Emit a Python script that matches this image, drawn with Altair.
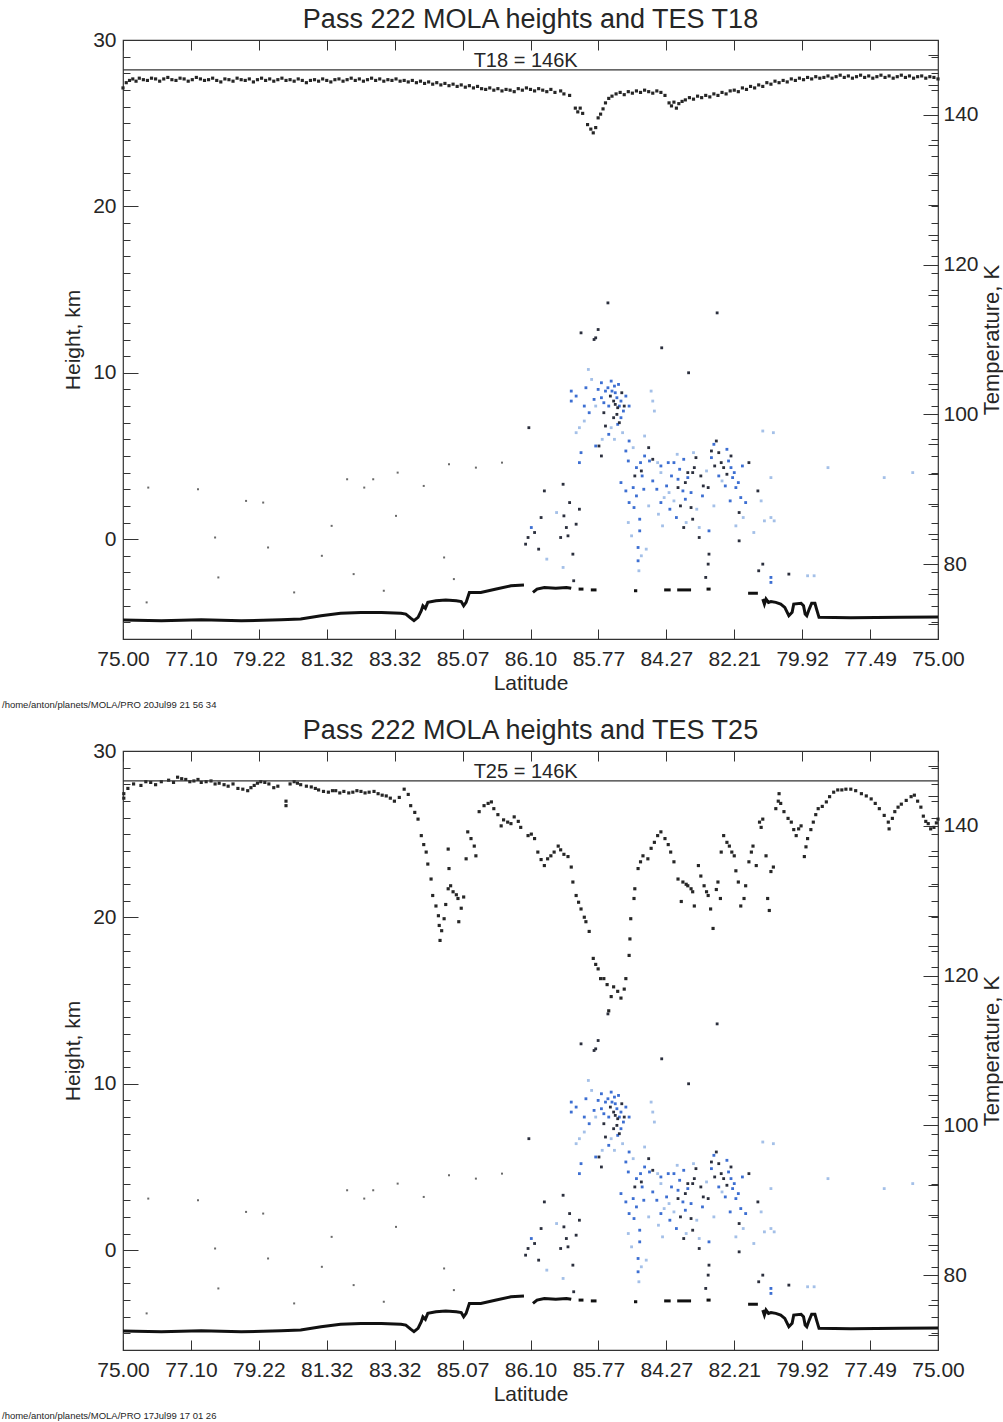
import altair as alt
import pandas as pd

# ---------------- text ----------------
TITLE_1 = "Pass 222 MOLA heights and TES T18"
TITLE_2 = "Pass 222 MOLA heights and TES T25"
REF_1 = "T18 = 146K"
REF_2 = "T25 = 146K"
FOOT_1 = "/home/anton/planets/MOLA/PRO 20Jul99 21 56 34"
FOOT_2 = "/home/anton/planets/MOLA/PRO 17Jul99 17 01 26"
X_LABELS = ["75.00", "77.10", "79.22", "81.32", "83.32", "85.07", "86.10",
            "85.77", "84.27", "82.21", "79.92", "77.49", "75.00"]
H_MAJOR = [0, 10, 20, 30]
T_MAJOR = [80, 100, 120, 140]
T_REF = 146

# ---------------- data (along-track position 0..1000, value) ----------------
T18 = [(0,143.6),(4,144.3),(8,144.6),(12,144.8),(16,144.5),(20,144.9),(25,144.7),(30,144.6),(35,144.9),
       (40,144.8),(45,144.5),(50,144.8),(55,145.0),(60,144.7),(65,144.6),(70,144.9),(75,144.8),(80,144.5),
       (85,144.7),(90,145.0),(95,144.8),(100,144.6),(105,144.7),(110,144.9),(115,144.6),(120,144.4),
       (125,144.8),(130,144.7),(135,144.5),(140,144.9),(145,144.7),(150,144.6),(155,144.8),(160,144.4),
       (165,144.7),(170,144.9),(175,144.6),(180,144.8),(185,144.5),(190,144.7),(195,144.9),(200,144.6),
       (205,144.7),(210,144.5),(215,144.8),(220,144.6),(225,144.3),(230,144.6),(235,144.7),(240,144.5),
       (245,144.8),(250,144.6),(255,144.4),(260,144.7),(265,144.8),(270,144.5),(275,144.7),(280,144.9),
       (285,144.6),(290,144.8),(295,144.5),(300,144.7),(305,144.9),(310,144.6),(315,144.8),(320,144.5),
       (325,144.7),(330,144.6),(335,144.8),(340,144.5),(345,144.6),(350,144.4),(355,144.6),(360,144.3),
       (365,144.5),(370,144.2),(375,144.4),(380,144.1),(385,144.3),(390,144.0),(395,144.2),(400,143.9),
       (405,144.1),(410,143.8),(415,144.0),(420,143.7),(425,143.9),(430,143.6),(435,143.8),(440,143.5),
       (445,143.4),(450,143.6),(455,143.3),(460,143.5),(465,143.2),(470,143.4),(475,143.3),(480,143.1),
       (485,143.5),(490,143.3),(495,143.6),(500,143.4),(505,143.2),(510,143.5),(515,143.3),(520,143.1),
       (525,143.4),(530,143.0),(537,143.2),(541,142.8),(548,142.6),(555,140.9),(558,140.4),(561,140.9),
       (564,140.2),(570,138.7),(574,138.1),(577,137.6),(580,138.3),(583,139.6),(586,140.1),(589,140.8),
       (592,141.6),(596,142.2),(600,142.5),(605,142.8),(610,143.0),(615,142.7),(620,143.1),(625,142.9),
       (630,143.2),(635,143.0),(640,143.3),(645,143.1),(650,142.9),(655,143.2),(660,143.0),(665,142.6),
       (670,141.6),(673,141.2),(676,141.7),(679,140.9),(682,141.5),(686,141.8),(690,142.0),(695,142.3),
       (700,142.1),(705,142.5),(710,142.3),(715,142.6),(720,142.4),(725,142.8),(730,142.6),(735,143.0),
       (740,142.8),(745,143.2),(750,143.3),(755,143.1),(760,143.6),(765,143.4),(770,143.8),(775,143.6),
       (780,144.0),(785,143.8),(790,144.3),(795,144.1),(800,144.5),(805,144.3),(810,144.6),(815,144.4),
       (820,144.8),(825,144.6),(830,144.9),(835,144.7),(840,145.0),(845,144.8),(850,145.1),(855,144.9),
       (860,145.0),(865,145.2),(870,144.9),(875,145.1),(880,145.3),(885,145.0),(890,145.2),(895,144.9),
       (900,145.1),(905,145.3),(910,145.0),(915,145.2),(920,144.9),(925,145.1),(930,145.3),(935,145.0),
       (940,145.2),(945,144.9),(950,145.1),(955,145.3),(960,145.0),(965,145.2),(970,144.9),(975,145.1),
       (980,145.2),(985,144.9),(990,145.1),(995,145.0),(1000,144.8)]

T25 = [(1,144.3),(1,143.7),(6,145.0),(13,145.6),(22,145.4),(28,145.9),(34,145.8),(40,145.5),(47,145.9),
       (56,146.1),(62,145.8),(67,146.5),(72,146.3),(77,146.2),(82,145.9),(87,146.0),(92,146.2),(96,145.8),
       (102,145.9),(108,146.0),(113,145.6),(118,145.7),(124,145.5),(129,145.3),(135,145.6),(141,145.0),
       (147,144.9),(153,144.7),(157,145.1),(161,145.4),(165,145.7),(169,145.9),(174,145.8),(179,145.6),
       (185,145.1),(190,145.3),(200,142.7),(200,143.3),(205,145.6),(210,145.9),(214,145.7),(218,145.5),
       (225,145.3),(231,145.2),(236,145.0),(240,144.8),(246,144.6),(252,144.5),(257,144.7),(261,144.7),
       (266,144.4),(271,144.6),(277,144.4),(282,144.5),(287,144.7),(292,144.6),(297,144.4),(302,144.5),
       (308,144.6),(313,144.3),(318,144.1),(323,144.0),(328,143.7),(333,143.3),(339,143.8),(345,144.9),
       (350,144.2),(353,142.7),(358,141.8),(362,140.9),(366,138.7),(369,137.5),(372,136.5),(374,134.9),
       (378,132.9),(380,130.7),(384,129.3),(387,128.0),(388,126.7),(389,124.7),(391,126.0),(394,127.6),
       (396,129.5),(399,131.6),(400,134.3),(399,136.9),(402,132.0),(405,131.2),(409,130.8),(411,130.3),
       (412,127.2),(415,129.0),(418,130.5),(421,135.6),(423,139.2),(427,138.3),(431,137.3),(433,136.0),
       (437,141.9),(443,142.7),(448,143.0),(452,143.2),(455,142.3),(460,141.5),(464,140.0),(467,140.8),
       (472,140.5),(476,140.3),(480,141.2),(485,140.6),(488,139.8),(497,138.7),(501,138.9),(505,138.3),
       (509,136.5),(513,135.5),(517,134.7),(521,135.6),(525,136.0),(529,136.5),(534,137.3),(537,136.8),
       (541,136.2),(546,135.9),(550,134.5),(552,132.5),(556,130.7),(559,129.8),(562,128.9),(566,127.8),
       (568,127.2),(572,125.9),(577,122.3),(580,121.5),(583,120.9),(586,119.6),(590,119.6),(594,118.8),
       (596,115.3),(599,117.2),(602,118.5),(607,117.9),(611,117.0),(615,118.2),(617,119.6),(621,122.7),
       (622,124.9),(623,127.6),(627,130.3),(628,131.6),(632,134.3),(635,135.2),(638,136.0),(644,135.6),
       (648,137.0),(652,137.8),(656,138.7),(660,139.2),(665,138.3),(669,137.5),(672,136.5),(676,135.2),
       (681,132.9),(685,129.9),(687,132.5),(691,132.2),(693,132.0),(697,131.6),(699,131.2),(701,129.3),
       (706,134.7),(709,133.3),(713,132.0),(716,131.2),(718,130.7),(721,128.9),(724,126.3),(728,131.5),
       (730,132.5),(733,130.3),(734,136.5),(737,138.7),(741,137.8),(744,137.3),(747,136.5),(750,136.0),
       (752,134.0),(755,132.5),(758,129.3),(762,130.3),(764,132.0),(768,135.2),(771,136.5),(773,137.3),
       (777,134.7),(781,140.5),(783,139.8),(785,140.9),(789,136.0),(791,130.3),(793,128.7),(795,133.9),
       (798,134.5),(801,142.3),(804,143.3),(805,144.3),(807,143.0),(811,141.9),(816,141.0),(820,140.5),
       (823,139.5),(826,138.7),(829,139.6),(832,140.0),(836,135.9),(838,137.2),(840,138.3),(844,139.5),
       (847,140.5),(850,141.5),(853,142.3),(858,142.6),(863,143.2),(867,143.9),(872,144.5),(877,144.8),
       (882,144.8),(887,144.9),(893,144.9),(899,144.7),(906,144.3),(912,144.0),(918,143.6),(923,143.0),
       (928,142.3),(934,141.4),(939,140.5),(940,139.6),(944,141.0),(947,141.9),(951,142.5),(955,142.9),
       (961,143.4),(967,143.9),(971,144.1),(975,143.3),(979,142.5),(982,141.3),(985,140.6),(988,140.3),
       (991,139.6),(995,139.8),(998,140.4),(1000,140.9)]

SURFACE = {
    "a": [(0,-4.86),(47,-4.9),(96,-4.85),(145,-4.9),(194,-4.85),(218,-4.8),(243,-4.6),(267,-4.45),
          (292,-4.4),(317,-4.4),(341,-4.45),(347,-4.5),(353,-4.75),(357,-4.9),(362,-4.7),(366,-4.3),
          (368,-4.0),(371,-4.15),(374,-3.8),(384,-3.7),(396,-3.65),(409,-3.7),(415,-3.75),(418,-4.0),
          (421,-3.8),(425,-3.2),(439,-3.2),(458,-3.0),(476,-2.8),(492,-2.75)],
    "b": [(503,-3.2),(508,-3.0),(517,-2.9),(531,-2.95),(544,-2.9),(550,-2.95)],
    "c": [(559,-3.0),(565,-3.0)],
    "d": [(574,-3.05),(581,-3.05)],
    "e": [(627,-3.1),(631,-3.1)],
    "f": [(664,-3.05),(672,-3.05)],
    "g": [(680,-3.05),(697,-3.05)],
    "h": [(716,-3.0),(721,-3.0)],
    "i": [(767,-3.25),(779,-3.25)],
    "j": [(785,-3.6),(787,-3.9),(789,-3.6),(792,-3.8),(795,-3.75),(801,-3.8),(807,-3.9),(812,-4.1),
          (815,-4.4),(817,-4.6),(821,-4.4),(823,-3.9),(832,-3.85),(835,-4.0),(837,-4.5),(839,-4.6),
          (842,-4.2),(845,-3.85),(849,-3.85),(851,-4.2),(854,-4.7),(893,-4.72),(955,-4.7),(1000,-4.68)],
}

CLOUD_DARK = [(595,14.2),(562,12.4),(583,12.6),(578,12.0),(580,12.1),(729,13.6),(661,11.5),(694,10.0),
              (498,6.7),(584,5.6),(587,5.0),(517,2.9),(540,3.3),(541,1.4),(544,0.7),(546,0.2),(537,0.1),
              (497,0.1),(494,-0.3),(513,1.3),(552,-0.9),(553,-2.5),(602,8.3),(607,7.9),(590,7.6),
              (602,7.3),(636,4.1),(645,5.5),(681,3.1),(693,4.0),(688,0.7),(697,1.9),(699,4.0),(701,4.3),
              (712,3.2),(718,3.1),(728,5.9),(731,5.2),(734,4.6),(737,4.3),(756,1.6),(756,-0.1),(768,4.6),
              (779,2.9),(785,-1.5),(780,-1.9),(817,-2.1),(703,4.9),(707,0.1),(719,-0.9),(718,-1.5),
              (715,-2.3),(604,8.1),(606,7.5),(598,8.6),(612,8.8),(615,8.0),(609,7.0),(592,6.8),(726,4.4),
              (722,5.3),(741,3.9),(746,5.0),(709,3.8),(684,2.0),(699,1.2),(690,3.4),(650,4.8),(628,3.8),
              (560,1.8),(548,2.2),(556,0.9),(505,0.4),(510,-0.6)]
CLOUD_BLUE = [(550,8.9),(550,8.3),(568,9.1),(587,9.4),(595,9.1),(611,8.3),(587,8.5),(611,7.3),(572,7.6),
              (562,5.2),(560,4.6),(501,0.7),(617,5.3),(621,5.9),(620,4.7),(611,3.4),(617,2.9),(626,3.1),
              (621,2.2),(627,1.9),(632,-0.5),(632,-1.3),(669,4.6),(676,4.6),(687,2.9),(679,1.3),
              (693,3.7),(719,0.5),(725,5.7),(743,4.7),(746,4.3),(752,3.1),(758,2.5),(795,-2.3),
              (795,-2.6),(599,9.5),(604,8.8),(609,8.0),(614,7.7),(592,8.9),(556,8.6),(566,8.0),
              (640,5.0),(650,3.5),(660,2.2),(673,3.8),(683,4.2),(690,2.4),(741,5.4),(748,3.7),(760,4.4),
              (630,4.3),(660,4.4),(600,8.9),(603,9.2),(606,8.5),(596,8.0),(608,9.3),(590,8.2),(617,8.6),
              (621,8.0),(583,9.0),(578,8.4),(635,4.6),(637,3.8),(639,3.0),(630,2.6),(634,1.2),(634,0.5),
              (646,4.7),(655,3.0),(667,3.2),(671,1.8),(681,3.6),(688,4.8),(697,2.8),(711,2.6),(722,4.9),
              (731,3.8),(739,3.2),(745,2.3),(750,4.0),(755,3.4),(764,2.2),(607,6.9),(596,6.3),(580,5.6)]
CLOUD_LIGHT = [(648,8.9),(650,8.3),(652,7.7),(556,6.4),(633,-1.9),(656,4.6),(660,4.0),(670,2.8),
               (664,2.5),(676,2.3),(691,1.0),(707,0.7),(774,0.4),(783,2.3),(787,1.1),(795,1.3),
               (799,1.1),(840,-2.2),(848,-2.2),(798,6.4),(785,6.5),(795,3.7),(865,4.3),(969,4.0),
               (934,3.7),(571,10.2),(560,6.7),(599,6.7),(540,-1.7),(575,9.6),(580,8.0),(603,6.0),
               (640,6.2),(700,5.2),(725,2.0),(735,3.5),(620,1.0),(624,0.2),(566,7.1),(588,6.0),
               (613,6.4),(626,5.5),(645,2.0),(657,1.5),(662,0.8),(680,5.1),(704,1.8),(716,4.1),
               (752,0.8),(761,1.3),(642,-0.6),(636,-1.0),(520,-1.2),(532,1.6)]
SPARSE = [(31,3.1),(92,3.0),(151,2.3),(113,0.1),(117,-2.3),(29,-3.8),(210,-3.2),(244,-1.0),(256,0.8),
          (275,3.6),(307,3.6),(337,4.0),(369,3.2),(400,4.5),(433,4.3),(465,4.6),(283,-2.1),(320,-3.1),
          (335,1.4),(394,-1.1),(406,-2.4),(178,-0.5),(172,2.2),(296,3.1)]

# ---------------- geometry / style ----------------
W, H = 815, 599
X_TICKS = [round(k * 1000 / 12, 3) for k in range(13)]
H_MINOR = [v for v in range(-5, 30) if v % 10 != 0]
H_ALL = list(range(-5, 30))
T_MINOR = [v for v in range(72, 150, 4) if v % 20 != 0]
LABEL_EXPR = "[" + ",".join("'" + s + "'" for s in X_LABELS) + "][round(datum.value * 12 / 1000)]"
FONT = "Liberation Sans"
INK = "#262626"


def xy(pairs, a, b):
    return pd.DataFrame({a: [p[0] for p in pairs], b: [p[1] for p in pairs]})


def panel(temps, ref_text, title, footer):
    xs = alt.Scale(domain=[0, 1000], nice=False, zero=False)
    hs = alt.Scale(domain=[-6, 30], nice=False, zero=False)
    ts = alt.Scale(domain=[70, 150], nice=False, zero=False)

    x_bottom = alt.Axis(orient="bottom", values=X_TICKS, labelExpr=LABEL_EXPR, offset=-10, tickSize=10,
                        domain=False, grid=False, labelPadding=9, labelFontSize=21, labelFlush=False,
                        labelOverlap=False, title="Latitude", titleFontSize=21, titlePadding=3)
    x_top = alt.Axis(orient="top", values=X_TICKS, offset=-10, tickSize=10, domain=False, grid=False,
                     labels=False, title=None)
    h_left = alt.Axis(orient="left", values=H_MAJOR, offset=-15, tickSize=15, domain=False, grid=False,
                      labelPadding=7, labelFontSize=21, title="Height, km", titleFontSize=21, titlePadding=9)
    h_left_minor = alt.Axis(orient="left", values=H_MINOR, offset=-7, tickSize=7, domain=False,
                            grid=False, labels=False, title=None)
    h_right_minor = alt.Axis(orient="right", values=H_ALL, offset=-7, tickSize=7, domain=False,
                             grid=False, labels=False, title=None)
    t_right = alt.Axis(orient="right", values=T_MAJOR, offset=-15, tickSize=15, domain=False, grid=False,
                       labelPadding=5, labelFontSize=21, title="Temperature, K", titleFontSize=22,
                       titleAngle=270, titleBaseline="top", titlePadding=3)
    t_right_minor = alt.Axis(orient="right", values=T_MINOR, offset=-10, tickSize=10, domain=False,
                             grid=False, labels=False, title=None)

    temp_pts = alt.Chart(xy(temps, "x", "t")).mark_square(size=10, color=INK, opacity=1).encode(
        x=alt.X("x:Q", scale=xs, axis=x_bottom),
        y=alt.Y("t:Q", scale=ts, axis=t_right),
    )
    ref_rule = alt.Chart(pd.DataFrame({"t": [T_REF]})).mark_rule(color="#333", strokeWidth=1.2).encode(
        y=alt.Y("t:Q", scale=ts, axis=t_right_minor),
    )
    ref_label = alt.Chart(pd.DataFrame({"x": [494], "t": [T_REF], "s": [ref_text]})).mark_text(
        font=FONT, fontSize=20, color=INK, baseline="alphabetic", dy=-3
    ).encode(
        x=alt.X("x:Q", scale=xs, axis=x_top),
        y=alt.Y("t:Q", scale=ts, axis=None),
        text="s:N",
    )
    surf_rows = [(k, p[0], p[1]) for k, seg in SURFACE.items() for p in seg]
    surf_df = pd.DataFrame({"seg": [r[0] for r in surf_rows], "x": [r[1] for r in surf_rows],
                            "h": [r[2] for r in surf_rows]})
    surface = alt.Chart(surf_df).mark_line(color="#111", strokeWidth=3).encode(
        x=alt.X("x:Q", scale=xs, axis=None),
        y=alt.Y("h:Q", scale=hs, axis=h_left),
        detail="seg:N",
        order="x:Q",
    )
    cloud_df = pd.concat([xy(CLOUD_LIGHT, "x", "h").assign(c="light"),
                          xy(CLOUD_BLUE, "x", "h").assign(c="blue"),
                          xy(CLOUD_DARK, "x", "h").assign(c="dark")])
    cloud = alt.Chart(cloud_df).mark_square(size=8, opacity=1).encode(
        x=alt.X("x:Q", scale=xs, axis=None),
        y=alt.Y("h:Q", scale=hs, axis=h_left_minor),
        color=alt.Color("c:N", scale=alt.Scale(domain=["dark", "blue", "light"],
                                               range=["#2b2f3d", "#3d6fd2", "#a4c0e8"]), legend=None),
    )
    sparse = alt.Chart(xy(SPARSE, "x", "h")).mark_square(size=4, color="#6a6a6a", opacity=1).encode(
        x=alt.X("x:Q", scale=xs, axis=None),
        y=alt.Y("h:Q", scale=hs, axis=h_right_minor),
    )
    foot = alt.Chart(pd.DataFrame({"s": [footer]})).mark_text(
        font=FONT, fontSize=9.5, color=INK, align="left", baseline="middle"
    ).encode(x=alt.value(-121), y=alt.value(665), text="s:N")

    return alt.layer(surface, cloud, sparse, temp_pts, ref_rule, ref_label, foot).resolve_scale(
        x="independent", y="independent"
    ).properties(
        width=W, height=H,
        title=alt.TitleParams(text=title, fontSize=27, fontWeight="normal", font=FONT, color=INK,
                              anchor="middle", offset=-5),
    )


chart = alt.vconcat(
    panel(T18, REF_1, TITLE_1, FOOT_1),
    panel(T25, REF_2, TITLE_2, FOOT_2),
    spacing=5,
).properties(
    padding={"left": 1, "top": 5, "right": 0, "bottom": 0},
    background="white",
).configure_view(
    stroke="#333", strokeWidth=1.2
).configure_axis(
    labelFont=FONT, titleFont=FONT, labelColor=INK, titleColor=INK, tickColor="#333",
    titleFontWeight="normal", tickWidth=1,
)

chart.save("out.html", embed_options={"renderer": "svg", "actions": False})
